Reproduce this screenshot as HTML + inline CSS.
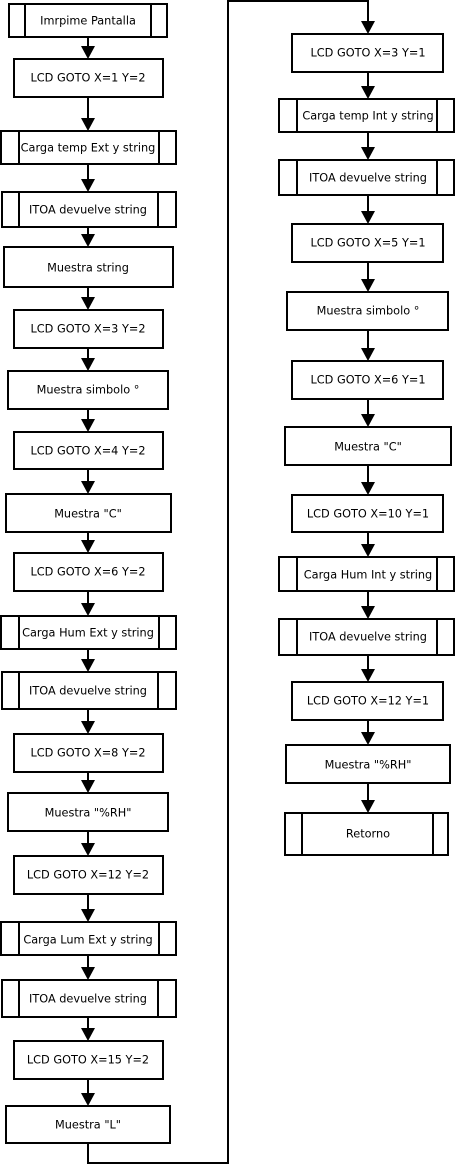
<!DOCTYPE html>
<html><head><meta charset="utf-8"><style>
html,body{margin:0;padding:0;background:#fff;}
svg{display:block;}
text{font-family:"DejaVu Sans","Liberation Sans",sans-serif;font-size:11.3px;fill:#000;text-anchor:middle;dominant-baseline:central;}
rect{fill:#fff;stroke:#000;stroke-width:2;}
line,polyline{stroke:#000;stroke-width:2;fill:none;}
polygon{fill:#000;stroke:none;}
</style></head><body>
<svg width="455" height="1166" viewBox="0 0 455 1166" xmlns="http://www.w3.org/2000/svg">
<g>
<line x1="88" y1="37" x2="88" y2="50"/><polygon points="81,46 95,46 88,59"/>
<line x1="88" y1="97" x2="88" y2="122"/><polygon points="81,118 95,118 88,131"/>
<line x1="88" y1="164" x2="88" y2="183"/><polygon points="81,179 95,179 88,192"/>
<line x1="88" y1="227" x2="88" y2="238"/><polygon points="81,234 95,234 88,247"/>
<line x1="88" y1="287" x2="88" y2="301"/><polygon points="81,297 95,297 88,310"/>
<line x1="88" y1="348" x2="88" y2="362"/><polygon points="81,358 95,358 88,371"/>
<line x1="88" y1="409" x2="88" y2="423"/><polygon points="81,419 95,419 88,432"/>
<line x1="88" y1="469" x2="88" y2="485"/><polygon points="81,481 95,481 88,494"/>
<line x1="88" y1="532" x2="88" y2="544"/><polygon points="81,540 95,540 88,553"/>
<line x1="88" y1="591" x2="88" y2="607"/><polygon points="81,603 95,603 88,616"/>
<line x1="88" y1="649" x2="88" y2="663"/><polygon points="81,659 95,659 88,672"/>
<line x1="88" y1="709" x2="88" y2="725"/><polygon points="81,721 95,721 88,734"/>
<line x1="88" y1="772" x2="88" y2="784"/><polygon points="81,780 95,780 88,793"/>
<line x1="88" y1="831" x2="88" y2="847"/><polygon points="81,843 95,843 88,856"/>
<line x1="88" y1="894" x2="88" y2="913"/><polygon points="81,909 95,909 88,922"/>
<line x1="88" y1="955" x2="88" y2="971"/><polygon points="81,967 95,967 88,980"/>
<line x1="88" y1="1017" x2="88" y2="1032"/><polygon points="81,1028 95,1028 88,1041"/>
<line x1="88" y1="1079" x2="88" y2="1097"/><polygon points="81,1093 95,1093 88,1106"/>
<polyline points="88,1143 88,1163 228,1163 228,1 368,1 368,25"/><polygon points="361,21 375,21 368,34"/>
</g>
<g>
<line x1="368" y1="72" x2="368" y2="90"/><polygon points="361,86 375,86 368,99"/>
<line x1="368" y1="132" x2="368" y2="151"/><polygon points="361,147 375,147 368,160"/>
<line x1="368" y1="195" x2="368" y2="215"/><polygon points="361,211 375,211 368,224"/>
<line x1="368" y1="262" x2="368" y2="283"/><polygon points="361,279 375,279 368,292"/>
<line x1="368" y1="330" x2="368" y2="352"/><polygon points="361,348 375,348 368,361"/>
<line x1="368" y1="399" x2="368" y2="418"/><polygon points="361,414 375,414 368,427"/>
<line x1="368" y1="465" x2="368" y2="486"/><polygon points="361,482 375,482 368,495"/>
<line x1="368" y1="532" x2="368" y2="548"/><polygon points="361,544 375,544 368,557"/>
<line x1="368" y1="591" x2="368" y2="610"/><polygon points="361,606 375,606 368,619"/>
<line x1="368" y1="655" x2="368" y2="673"/><polygon points="361,669 375,669 368,682"/>
<line x1="368" y1="720" x2="368" y2="736"/><polygon points="361,732 375,732 368,745"/>
<line x1="368" y1="783" x2="368" y2="804"/><polygon points="361,800 375,800 368,813"/>
</g>
<rect x="9" y="4" width="158" height="33"/><line x1="25" y1="4" x2="25" y2="37"/><line x1="151" y1="4" x2="151" y2="37"/><text x="88" y="21">Imrpime Pantalla</text>
<rect x="14" y="59" width="149" height="38"/><text x="88" y="78">LCD GOTO X=1 Y=2</text>
<rect x="1" y="131" width="175" height="33"/><line x1="19" y1="131" x2="19" y2="164"/><line x1="159" y1="131" x2="159" y2="164"/><text x="88" y="148">Carga temp Ext y string</text>
<rect x="2" y="192" width="174" height="35"/><line x1="19" y1="192" x2="19" y2="227"/><line x1="158" y1="192" x2="158" y2="227"/><text x="88" y="210">ITOA devuelve string</text>
<rect x="4" y="247" width="169" height="40"/><text x="88" y="268">Muestra string</text>
<rect x="14" y="310" width="149" height="38"/><text x="88" y="329">LCD GOTO X=3 Y=2</text>
<rect x="8" y="371" width="160" height="38"/><text x="88" y="390">Muestra simbolo °</text>
<rect x="14" y="432" width="149" height="37"/><text x="88" y="451">LCD GOTO X=4 Y=2</text>
<rect x="6" y="494" width="165" height="38"/><text x="88" y="514">Muestra "C"</text>
<rect x="14" y="553" width="149" height="38"/><text x="88" y="572">LCD GOTO X=6 Y=2</text>
<rect x="1" y="616" width="175" height="33"/><line x1="19" y1="616" x2="19" y2="649"/><line x1="159" y1="616" x2="159" y2="649"/><text x="88" y="633">Carga Hum Ext y string</text>
<rect x="2" y="672" width="174" height="37"/><line x1="19" y1="672" x2="19" y2="709"/><line x1="158" y1="672" x2="158" y2="709"/><text x="88" y="691">ITOA devuelve string</text>
<rect x="14" y="734" width="149" height="38"/><text x="88" y="753">LCD GOTO X=8 Y=2</text>
<rect x="8" y="793" width="160" height="38"/><text x="88" y="813">Muestra "%RH"</text>
<rect x="14" y="856" width="149" height="38"/><text x="88" y="875">LCD GOTO X=12 Y=2</text>
<rect x="1" y="922" width="175" height="33"/><line x1="19" y1="922" x2="19" y2="955"/><line x1="159" y1="922" x2="159" y2="955"/><text x="88" y="940">Carga Lum Ext y string</text>
<rect x="2" y="980" width="174" height="37"/><line x1="19" y1="980" x2="19" y2="1017"/><line x1="158" y1="980" x2="158" y2="1017"/><text x="88" y="999">ITOA devuelve string</text>
<rect x="14" y="1041" width="149" height="38"/><text x="88" y="1060">LCD GOTO X=15 Y=2</text>
<rect x="6" y="1106" width="164" height="37"/><text x="88" y="1125">Muestra "L"</text>
<rect x="292" y="34" width="151" height="38"/><text x="368" y="53">LCD GOTO X=3 Y=1</text>
<rect x="279" y="99" width="175" height="33"/><line x1="297" y1="99" x2="297" y2="132"/><line x1="437" y1="99" x2="437" y2="132"/><text x="368" y="116">Carga temp Int y string</text>
<rect x="279" y="160" width="175" height="35"/><line x1="297" y1="160" x2="297" y2="195"/><line x1="437" y1="160" x2="437" y2="195"/><text x="368" y="178">ITOA devuelve string</text>
<rect x="292" y="224" width="151" height="38"/><text x="368" y="243">LCD GOTO X=5 Y=1</text>
<rect x="287" y="292" width="161" height="38"/><text x="368" y="311">Muestra simbolo °</text>
<rect x="292" y="361" width="151" height="38"/><text x="368" y="380">LCD GOTO X=6 Y=1</text>
<rect x="285" y="427" width="166" height="38"/><text x="368" y="447">Muestra "C"</text>
<rect x="292" y="495" width="151" height="37"/><text x="368" y="514">LCD GOTO X=10 Y=1</text>
<rect x="279" y="557" width="175" height="34"/><line x1="297" y1="557" x2="297" y2="591"/><line x1="437" y1="557" x2="437" y2="591"/><text x="368" y="575">Carga Hum Int y string</text>
<rect x="279" y="619" width="175" height="36"/><line x1="297" y1="619" x2="297" y2="655"/><line x1="437" y1="619" x2="437" y2="655"/><text x="368" y="637">ITOA devuelve string</text>
<rect x="292" y="682" width="151" height="38"/><text x="368" y="701">LCD GOTO X=12 Y=1</text>
<rect x="286" y="745" width="164" height="38"/><text x="368" y="765">Muestra "%RH"</text>
<rect x="285" y="813" width="163" height="42"/><line x1="302" y1="813" x2="302" y2="855"/><line x1="433" y1="813" x2="433" y2="855"/><text x="368" y="834">Retorno</text>
</svg>
</body></html>
